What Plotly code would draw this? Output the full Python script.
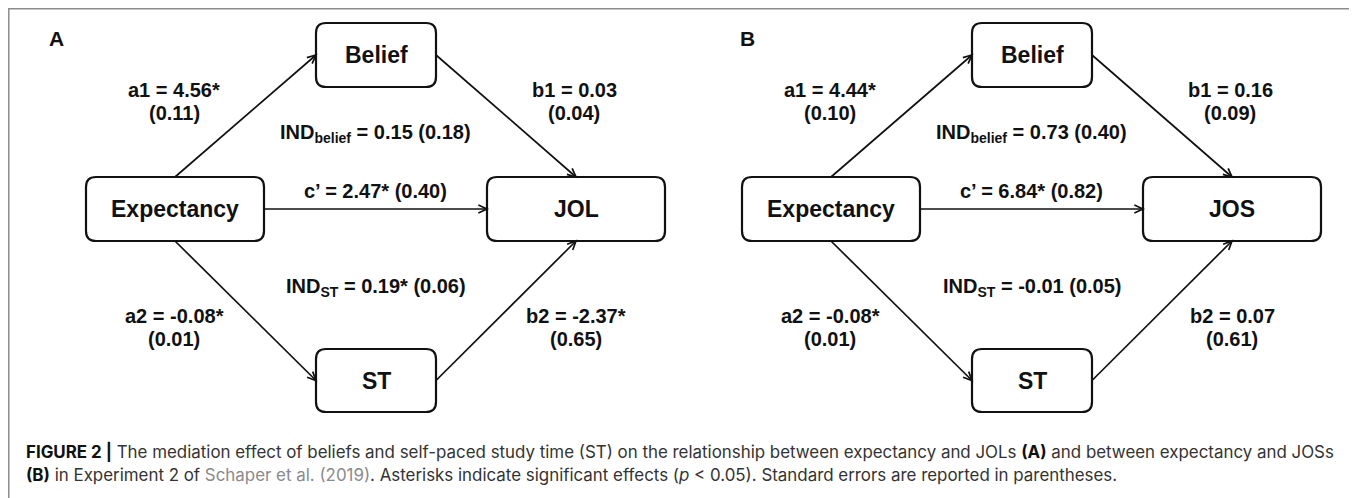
import math
import plotly.graph_objects as go

# ---------------- data ----------------
panels = ["A", "B"]
outcomes = ["JOL", "JOS"]
predictor = "Expectancy"
mediators = ["Belief", "ST"]

a1 = [4.56, 4.44]
a1_se = [0.11, 0.10]
a1_sig = [True, True]
b1 = [0.03, 0.16]
b1_se = [0.04, 0.09]
b1_sig = [False, False]
c_prime = [2.47, 6.84]
c_prime_se = [0.40, 0.82]
c_prime_sig = [True, True]
a2 = [-0.08, -0.08]
a2_se = [0.01, 0.01]
a2_sig = [True, True]
b2 = [-2.37, 0.07]
b2_se = [0.65, 0.61]
b2_sig = [True, False]
ind_belief = [0.15, 0.73]
ind_belief_se = [0.18, 0.40]
ind_belief_sig = [False, False]
ind_st = [0.19, -0.01]
ind_st_se = [0.06, 0.05]
ind_st_sig = [True, False]

caption_line1 = ("<span style='color:#111111'><b>FIGURE 2 |</b></span> The mediation effect of beliefs and "
                 "self-paced study time (ST) on the relationship between expectancy and JOLs "
                 "<span style='color:#111111'><b>(A)</b></span> and between expectancy and JOSs")
caption_line2 = ("<span style='color:#111111'><b>(B)</b></span> in Experiment 2 of "
                 "<span style='color:#8a8a8a'>Schaper et al. (2019)</span>. "
                 "Asterisks indicate significant effects (<i>p</i> &lt; 0.05). "
                 "Standard errors are reported in parentheses.")

# ---------------- layout helpers ----------------
W, H = 1357, 498
OFF = 8  # page body margin
FONT = "Liberation Sans, Arial, Helvetica, sans-serif"
CAP_FONT = "Inter, Liberation Sans, Arial, sans-serif"
INK = "#111111"


def fmt(v, sig):
    return f"{v:.2f}" + ("*" if sig else "")


def rrect(x0, y0, x1, y1, r):
    return (f"M{x0 + r},{y0} L{x1 - r},{y0} Q{x1},{y0} {x1},{y0 + r} "
            f"L{x1},{y1 - r} Q{x1},{y1} {x1 - r},{y1} L{x0 + r},{y1} "
            f"Q{x0},{y1} {x0},{y1 - r} L{x0},{y0 + r} Q{x0},{y0} {x0 + r},{y0} Z")


shapes = []
annotations = []


def add_text(x, y, text, size, color=INK, xanchor="center", bold=True, family=FONT):
    annotations.append(dict(
        x=x, y=y, xref="x", yref="y", text=(f"<b>{text}</b>" if bold else text),
        showarrow=False, xanchor=xanchor, yanchor="middle",
        font=dict(family=family, size=size, color=color)))


def add_arrow(p0, p1):
    (x0, y0), (x1, y1) = p0, p1
    shapes.append(dict(type="line", x0=x0, y0=y0, x1=x1, y1=y1, xref="x", yref="y",
                       line=dict(color=INK, width=1.7)))
    ang = math.atan2(y1 - y0, x1 - x0)
    L, half = 9.5, math.radians(25)
    pa = (x1 - L * math.cos(ang - half), y1 - L * math.sin(ang - half))
    pb = (x1 - L * math.cos(ang + half), y1 - L * math.sin(ang + half))
    shapes.append(dict(type="path", xref="x", yref="y",
                       path=f"M{pa[0]:.2f},{pa[1]:.2f} L{x1},{y1} L{pb[0]:.2f},{pb[1]:.2f}",
                       line=dict(color=INK, width=1.7)))


# outer frame
shapes.append(dict(type="rect", x0=8.8, y0=8.8, x1=1350, y1=540, xref="x", yref="y",
                   line=dict(color="#8c8c8c", width=1.5)))

for i, panel in enumerate(panels):
    dx = 656 * i
    boxes = {
        "exp": (86 + dx, 177, 264 + dx, 241),
        "bel": (316 + dx, 23, 436 + dx, 87),
        "out": (487 + dx, 177, 665 + dx, 241),
        "st": (316 + dx, 349, 436 + dx, 412),
    }
    for key, (x0, y0, x1, y1) in boxes.items():
        shapes.append(dict(type="path", xref="x", yref="y", path=rrect(x0, y0, x1, y1, 10),
                           line=dict(color=INK, width=2.2), fillcolor="white"))

    def c(k):
        x0, y0, x1, y1 = boxes[k]
        return ((x0 + x1) / 2, (y0 + y1) / 2)

    def top(k):
        x0, y0, x1, y1 = boxes[k]
        return ((x0 + x1) / 2, y0)

    def bot(k):
        x0, y0, x1, y1 = boxes[k]
        return ((x0 + x1) / 2, y1)

    def left(k):
        x0, y0, x1, y1 = boxes[k]
        return (x0, (y0 + y1) / 2)

    def right(k):
        x0, y0, x1, y1 = boxes[k]
        return (x1, (y0 + y1) / 2)

    add_arrow(top("exp"), left("bel"))
    add_arrow(right("bel"), top("out"))
    add_arrow(right("exp"), left("out"))
    add_arrow(bot("exp"), left("st"))
    add_arrow(right("st"), bot("out"))

    add_text(*c("exp"), predictor, 23)
    add_text(*c("bel"), mediators[0], 23)
    add_text(*c("st"), mediators[1], 23)
    add_text(*c("out"), outcomes[i], 23)

    # panel letter
    add_text(47 + 691 * i, 38, panel, 21, xanchor="left")

    # path labels
    add_text(174 + dx, 90, f"a1 = {fmt(a1[i], a1_sig[i])}", 20)
    add_text(174 + dx, 113, f"({a1_se[i]:.2f})", 20)
    add_text(574 + dx, 90, f"b1 = {fmt(b1[i], b1_sig[i])}", 20)
    add_text(574 + dx, 113, f"({b1_se[i]:.2f})", 20)
    add_text(375 + dx, 191, f"c’ = {fmt(c_prime[i], c_prime_sig[i])} ({c_prime_se[i]:.2f})", 20)
    add_text(375 + dx, 133,
             f"IND<sub>belief</sub> = {fmt(ind_belief[i], ind_belief_sig[i])} ({ind_belief_se[i]:.2f})", 20)
    add_text(376 + dx, 287,
             f"IND<sub>ST</sub> = {fmt(ind_st[i], ind_st_sig[i])} ({ind_st_se[i]:.2f})", 20)
    add_text(174 + dx, 316, f"a2 = {fmt(a2[i], a2_sig[i])}", 20)
    add_text(174 + dx, 339, f"({a2_se[i]:.2f})", 20)
    add_text(576 + dx, 316, f"b2 = {fmt(b2[i], b2_sig[i])}", 20)
    add_text(576 + dx, 339, f"({b2_se[i]:.2f})", 20)

# caption
add_text(24, 451, caption_line1, 16.9, color="#333333", xanchor="left", bold=False, family=CAP_FONT)
add_text(24, 475, caption_line2, 16.9, color="#333333", xanchor="left", bold=False, family=CAP_FONT)

fig = go.Figure()
fig.add_trace(go.Scatter(x=[OFF, W], y=[OFF, H], mode="markers", marker=dict(opacity=0),
                         hoverinfo="skip", showlegend=False))
fig.update_layout(
    width=W - OFF, height=H - OFF, margin=dict(l=0, r=0, t=0, b=0),
    paper_bgcolor="white", plot_bgcolor="white",
    xaxis=dict(range=[OFF, W], visible=False, fixedrange=True),
    yaxis=dict(range=[H, OFF], visible=False, fixedrange=True),
    shapes=shapes, annotations=annotations, showlegend=False,
)
fig.write_html("out.html")
